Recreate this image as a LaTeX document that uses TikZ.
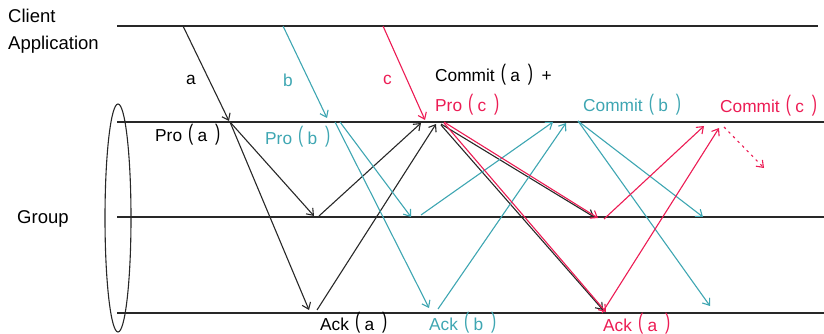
\documentclass[tikz,border=0pt]{standalone}
\usepackage{fontspec}
\setmainfont{Liberation Sans}
\usetikzlibrary{arrows.meta,shapes.geometric}
\definecolor{tealc}{RGB}{62,166,178}
\definecolor{redc}{RGB}{236,28,84}
\definecolor{linec}{RGB}{40,40,40}
\newcommand{\fwlp}{\kern0.35em\raisebox{0.1em}{\scalebox{0.9}[1.3]{(}}\kern0.25em}
\newcommand{\fwrp}{\kern0.45em\raisebox{0.1em}{\scalebox{0.9}[1.3]{)}}}
\tikzset{
  lifeline/.style={draw=linec, line width=1.4pt},
  msg/.style={line width=1.1pt, -{Straight Barb[length=6pt,width=9pt]}},
  lbl/.style={font=\fontsize{17.3}{20}\selectfont, inner sep=0pt, anchor=base west},
  biglbl/.style={font=\fontsize{18.5}{22}\selectfont, inner sep=0pt, anchor=base west},
}
\begin{document}
\begin{tikzpicture}[x=1pt,y=-1pt]
\useasboundingbox (0,0) rectangle (824,334);

% lifelines
\coordinate (cL) at (117,26);  \coordinate (cR) at (818,26);
\coordinate (g1L) at (117,122); \coordinate (g1R) at (824,122);
\coordinate (g2L) at (117,217); \coordinate (g2R) at (824,217);
\coordinate (g3L) at (117,313); \coordinate (g3R) at (824,313);
\draw[lifeline] (cL) -- (cR);
\draw[lifeline] (g1L) -- (g1R);
\draw[lifeline] (g2L) -- (g2R);
\draw[lifeline] (g3L) -- (g3R);

\node[draw=linec, ellipse, line width=1.1pt, minimum width=26pt, minimum height=228pt, inner sep=0pt] (grp) at (118,218) {};

% labels
\node[biglbl] (client) at (8,23) {Client};
\node[biglbl] (app) at (8,50) {Application};
\node[biglbl] (group) at (17,223) {Group};

\node[lbl] (la) at (186,85) {a};
\node[lbl, text=tealc] (lb) at (283,87) {b};
\node[lbl, text=redc] (lc) at (383,85) {c};
\node[lbl] (commita) at (435,82) {Commit\fwlp a\fwrp\kern0.5em+};
\node[lbl, text=redc] (proc) at (435,112) {Pro\fwlp c\fwrp};
\node[lbl, text=tealc] (commitb) at (583,112) {Commit\fwlp b\fwrp};
\node[lbl, text=redc] (commitc) at (720,113) {Commit\fwlp c\fwrp};
\node[lbl] (proa) at (155,142) {Pro\fwlp a\fwrp};
\node[lbl, text=tealc] (prob) at (265,144) {Pro\fwlp b\fwrp};
\node[lbl] (acka) at (320,330) {Ack\fwlp a\fwrp};
\node[lbl, text=tealc] (ackb) at (429,330) {Ack\fwlp b\fwrp};
\node[lbl, text=redc] (acka2) at (603,331) {Ack\fwlp a\fwrp};

% black messages
\coordinate (a0) at (183,26);  \coordinate (a1) at (229,121);
\coordinate (pa) at (230,122);
\coordinate (pa2) at (314,216); \coordinate (pa3) at (309,310);
\coordinate (k2) at (319,216);  \coordinate (k2t) at (421,123);
\coordinate (k3) at (317,310);  \coordinate (k3t) at (436,124);
\coordinate (cb0) at (441,124); \coordinate (cb2) at (594,217);
\coordinate (cb0b) at (441,125); \coordinate (cb3) at (603,310);
\draw[msg, linec] (a0) -- (a1);
\draw[msg, linec] (pa) -- (pa2);
\draw[msg, linec] (pa) -- (pa3);
\draw[msg, linec] (k2) -- (k2t);
\draw[msg, linec] (k3) -- (k3t);
\draw[msg, linec] (cb0) -- (cb2);
\draw[msg, linec] (cb0b) -- (cb3);

% teal messages
\coordinate (b0) at (283,26);  \coordinate (b1) at (327,118);
\coordinate (pb1) at (340,122); \coordinate (pb2) at (411,217);
\coordinate (pb1b) at (335,122); \coordinate (pb3) at (429,308);
\coordinate (t2) at (421,215);  \coordinate (t2t) at (553,122);
\coordinate (t3) at (438,309);  \coordinate (t3t) at (566,123);
\coordinate (cmb) at (578,121); \coordinate (cmb2) at (703,217);
\coordinate (cmb3) at (710,306);
\draw[msg, tealc] (b0) -- (b1);
\draw[msg, tealc] (pb1) -- (pb2);
\draw[msg, tealc] (pb1b) -- (pb3);
\draw[msg, tealc] (t2) -- (t2t);
\draw[msg, tealc] (t3) -- (t3t);
\draw[msg, tealc] (cmb) -- (cmb2);
\draw[msg, tealc] (cmb) -- (cmb3);

% red messages
\coordinate (c0) at (383,26);  \coordinate (c1) at (425,120);
\coordinate (pc) at (444,122); \coordinate (pc2) at (598,218);
\coordinate (pcb) at (444,123); \coordinate (pc3) at (606,312);
\coordinate (r2) at (604,219); \coordinate (r2t) at (704,126);
\coordinate (r3) at (602,313); \coordinate (r3t) at (719,128);
\coordinate (cc) at (724,127); \coordinate (cct) at (764,168);
\draw[msg, redc] (c0) -- (c1);
\draw[msg, redc] (pc) -- (pc2);
\draw[msg, redc] (pcb) -- (pc3);
\draw[msg, redc] (r2) -- (r2t);
\draw[msg, redc] (r3) -- (r3t);
\draw[msg, redc, dash pattern=on 2.5pt off 4pt] (cc) -- (cct);
\end{tikzpicture}
\end{document}
